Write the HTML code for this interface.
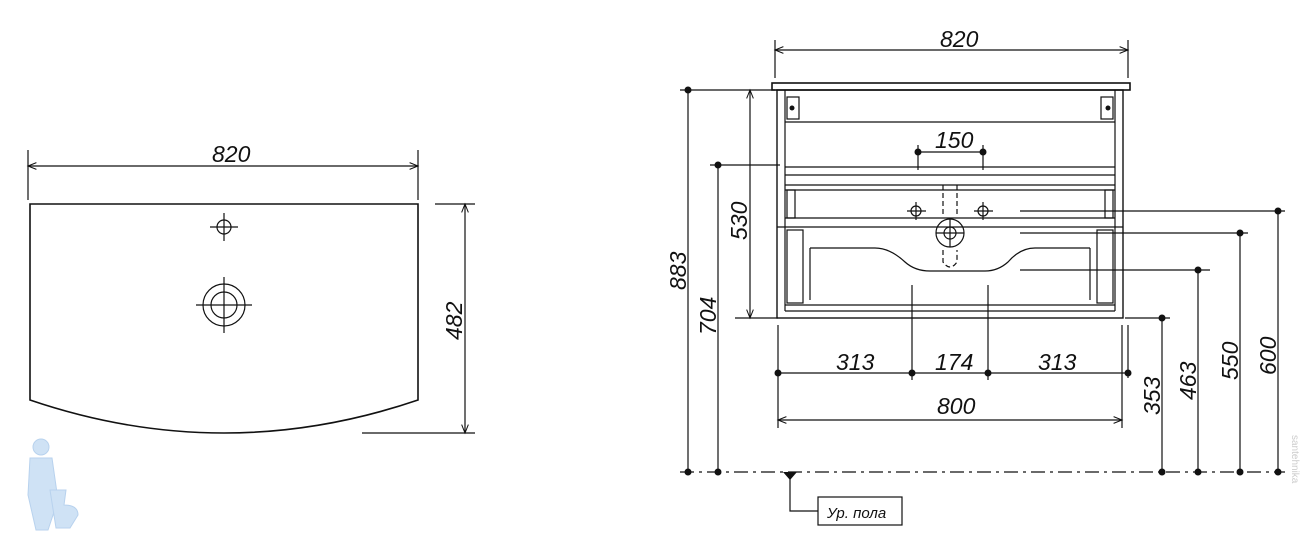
<!DOCTYPE html>
<html><head><meta charset="utf-8"><style>
body{margin:0;background:#fff}
svg{display:block}
text{font-family:"Liberation Sans",sans-serif;font-style:italic;font-size:23px;fill:#111}
</style></head><body>
<svg width="1301" height="548" viewBox="0 0 1301 548" xmlns="http://www.w3.org/2000/svg">
<defs>
<marker id="a" viewBox="0 0 10 10" refX="10" refY="5" markerWidth="10" markerHeight="7" orient="auto-start-reverse"><path d="M0,1 L10,5 L0,9" fill="none" stroke="#111" stroke-width="1.2"/></marker>
</defs>
<g stroke="#111" stroke-width="1.2" fill="none">
<!-- left view -->
<line x1="28" y1="150" x2="28" y2="200"/><line x1="418" y1="150" x2="418" y2="200"/>
<line x1="28" y1="166" x2="418" y2="166" marker-start="url(#a)" marker-end="url(#a)"/>
<path d="M30,204 L418,204 L418,400 Q224,466 30,400 Z" stroke-width="1.6"/>
<circle cx="224" cy="227" r="7"/><line x1="210" y1="227" x2="238" y2="227"/><line x1="224" y1="213" x2="224" y2="241"/>
<circle cx="224" cy="305" r="21"/><circle cx="224" cy="305" r="13"/><line x1="196" y1="305" x2="252" y2="305"/><line x1="224" y1="277" x2="224" y2="333"/>
<line x1="435" y1="204" x2="475" y2="204"/><line x1="362" y1="433" x2="475" y2="433"/>
<line x1="465" y1="204" x2="465" y2="433" marker-start="url(#a)" marker-end="url(#a)"/>
<!-- right view cabinet -->
<rect x="772" y="83" width="358" height="7" stroke-width="1.6"/>
<rect x="777" y="90" width="346" height="228" stroke-width="1.4"/>
<line x1="785" y1="90" x2="785" y2="311"/><line x1="1115" y1="90" x2="1115" y2="311"/>
<line x1="785" y1="122" x2="1115" y2="122"/>
<line x1="785" y1="167" x2="1115" y2="167"/><line x1="785" y1="175" x2="1115" y2="175"/>
<line x1="785" y1="185" x2="1115" y2="185"/><line x1="785" y1="190" x2="1115" y2="190"/>
<line x1="785" y1="218" x2="1115" y2="218"/><line x1="777" y1="227" x2="1123" y2="227"/>
<line x1="785" y1="305" x2="1115" y2="305"/><line x1="785" y1="311" x2="1115" y2="311"/>
<rect x="787" y="97" width="12" height="22"/><rect x="1101" y="97" width="12" height="22"/>
<rect x="787" y="190" width="8" height="28"/><rect x="1105" y="190" width="8" height="28"/>
<rect x="787" y="230" width="16" height="73"/><rect x="1097" y="230" width="16" height="73"/>
<path d="M810,248 L875,248 Q890,248 905,262 Q915,271 930,271 L985,271 Q998,271 1008,262 Q1020,248 1035,248 L1090,248"/>
<line x1="810" y1="248" x2="810" y2="300"/><line x1="1090" y1="248" x2="1090" y2="300"/>
<circle cx="950" cy="233" r="14"/><circle cx="950" cy="233" r="6"/>
<line x1="936" y1="233" x2="964" y2="233"/><line x1="950" y1="219" x2="950" y2="247"/>
<circle cx="916" cy="211" r="5"/><line x1="907" y1="211" x2="926" y2="211"/><line x1="916" y1="202" x2="916" y2="220"/>
<circle cx="983" cy="211" r="5"/><line x1="974" y1="211" x2="993" y2="211"/><line x1="983" y1="202" x2="983" y2="220"/>
<line x1="943" y1="185" x2="943" y2="215" stroke-dasharray="5,3"/><line x1="957" y1="185" x2="957" y2="215" stroke-dasharray="5,3"/>
<path d="M943,250 L943,262 Q950,272 957,262 L957,250" stroke-dasharray="5,3"/>
<!-- 150 -->
<line x1="918" y1="152" x2="983" y2="152"/><line x1="918" y1="145" x2="918" y2="170"/><line x1="983" y1="145" x2="983" y2="170"/>
<!-- top 820 -->
<line x1="775" y1="40" x2="775" y2="78"/><line x1="1128" y1="40" x2="1128" y2="78"/>
<line x1="775" y1="50" x2="1128" y2="50" marker-start="url(#a)" marker-end="url(#a)"/>
<!-- left dims -->
<line x1="680" y1="90" x2="775" y2="90"/><line x1="710" y1="165" x2="780" y2="165"/><line x1="735" y1="318" x2="778" y2="318"/>
<line x1="688" y1="90" x2="688" y2="472"/><line x1="718" y1="165" x2="718" y2="472"/>
<line x1="750" y1="90" x2="750" y2="318" marker-start="url(#a)" marker-end="url(#a)"/>
<!-- floor -->
<line x1="680" y1="472" x2="1285" y2="472" stroke-dasharray="14,5,3,5"/>
<!-- right dims -->
<line x1="1125" y1="318" x2="1170" y2="318"/>
<line x1="1020" y1="211" x2="1285" y2="211"/><line x1="1020" y1="233" x2="1248" y2="233"/><line x1="1020" y1="270" x2="1210" y2="270"/>
<line x1="1162" y1="318" x2="1162" y2="472"/><line x1="1198" y1="270" x2="1198" y2="472"/>
<line x1="1240" y1="233" x2="1240" y2="472"/><line x1="1278" y1="211" x2="1278" y2="472"/>
<!-- bottom dims -->
<line x1="912" y1="285" x2="912" y2="380"/><line x1="988" y1="285" x2="988" y2="380"/>
<line x1="778" y1="325" x2="778" y2="428"/><line x1="1122" y1="325" x2="1122" y2="428"/><line x1="1128" y1="325" x2="1128" y2="378"/>
<line x1="778" y1="373" x2="1128" y2="373"/>
<line x1="778" y1="420" x2="1122" y2="420" marker-start="url(#a)" marker-end="url(#a)"/>
<!-- level label -->
<polyline points="790,472 790,511 818,511"/>
<rect x="818" y="497" width="84" height="28"/>
</g>
<g fill="#111">
<circle cx="918" cy="152" r="3.5"/><circle cx="983" cy="152" r="3.5"/>
<circle cx="688" cy="90" r="3.5"/><circle cx="688" cy="472" r="3.5"/><circle cx="718" cy="165" r="3.5"/><circle cx="718" cy="472" r="3.5"/>
<circle cx="1162" cy="318" r="3.5"/><circle cx="1162" cy="472" r="3.5"/><circle cx="1198" cy="270" r="3.5"/><circle cx="1198" cy="472" r="3.5"/>
<circle cx="1240" cy="233" r="3.5"/><circle cx="1240" cy="472" r="3.5"/><circle cx="1278" cy="211" r="3.5"/><circle cx="1278" cy="472" r="3.5"/>
<circle cx="778" cy="373" r="3.5"/><circle cx="912" cy="373" r="3.5"/><circle cx="988" cy="373" r="3.5"/><circle cx="1128" cy="373" r="3.5"/>
<polygon points="783,472 797,472 790,480"/>
<circle cx="792" cy="108" r="2.5"/><circle cx="1108" cy="108" r="2.5"/>
</g>
<text x="212" y="162">820</text>
<text x="940" y="47">820</text>
<text x="935" y="148">150</text>
<text x="836" y="370">313</text>
<text x="935" y="370">174</text>
<text x="1038" y="370">313</text>
<text x="937" y="414">800</text>
<text transform="translate(462,340) rotate(-90)">482</text>
<text transform="translate(686,290) rotate(-90)">883</text>
<text transform="translate(716,335) rotate(-90)">704</text>
<text transform="translate(747,240) rotate(-90)">530</text>
<text transform="translate(1160,415) rotate(-90)">353</text>
<text transform="translate(1196,400) rotate(-90)">463</text>
<text transform="translate(1238,380) rotate(-90)">550</text>
<text transform="translate(1276,375) rotate(-90)">600</text>
<text x="827" y="518" style="font-size:15px">Ур. пола</text>
<!-- faint mascot -->
<g fill="#cfe2f5" stroke="#b8d2ee" stroke-width="1">
<circle cx="41" cy="447" r="8"/>
<path d="M30,458 L52,458 L58,500 L48,530 L36,530 L28,495 Z"/>
<path d="M50,490 L66,490 L64,505 Q78,505 78,515 L70,528 L56,528 Z"/>
</g>
<text transform="translate(1292,435) rotate(90)" style="font-size:10px;fill:#ccc;font-style:normal">santehnika</text>
</svg>
</body></html>
